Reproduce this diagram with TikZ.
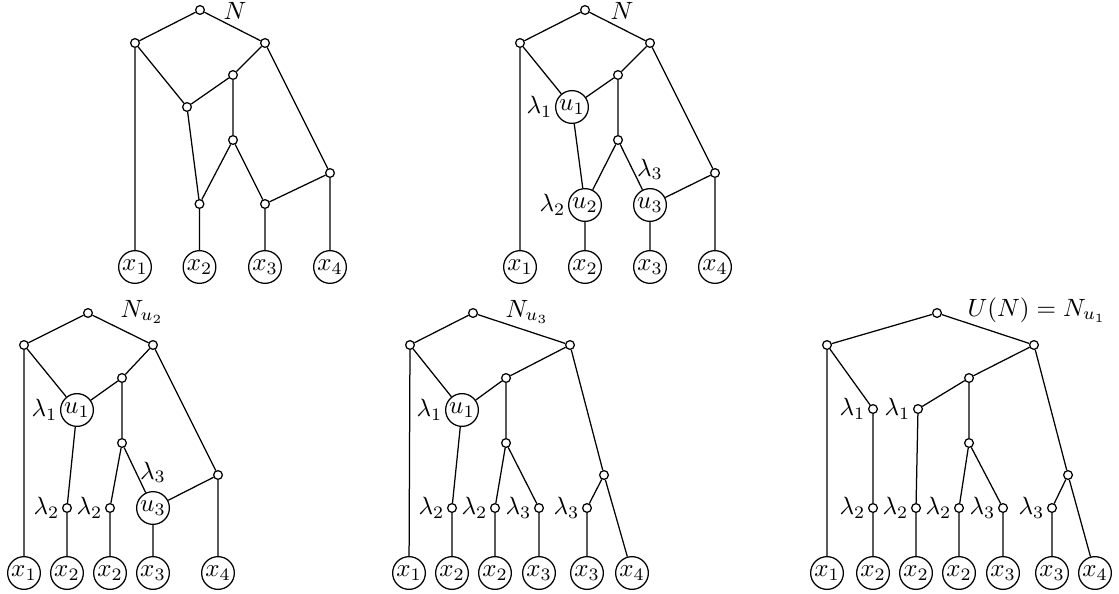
\documentclass[tikz,border=0pt]{standalone}
\begin{document}
\begin{tikzpicture}[x=0.4pt,y=-0.4pt,line width=0.5pt,
  v/.style={circle,draw,fill=white,inner sep=0pt,minimum size=3.5pt},
  lf/.style={circle,draw,inner sep=0.5pt},
  ttl/.style={anchor=base west,inner sep=0pt},
  every label/.style={inner sep=0.8pt},
  up/.style={label={[inner sep=3pt]above:$\lambda_{#1}$}},
  lt/.style={label={left:$\lambda_{#1}$}}]
\useasboundingbox (0,0) rectangle (1119,593);
% ---------------- top left: N
\node[v] (Ar) at (200,10) {};
\node[v] (Aa) at (135,43) {};
\node[v] (Ab) at (265,43) {};
\node[v] (Ac) at (233,75) {};
\node[v] (Ad) at (187,107) {};
\node[v] (Ae) at (233,140) {};
\node[v] (Af) at (330,173) {};
\node[v] (Ag) at (199.5,204) {};
\node[v] (Ah) at (265,204) {};
\node[lf] (A1) at (135,267) {$x_1$};
\node[lf] (A2) at (199.5,267) {$x_2$};
\node[lf] (A3) at (265,267) {$x_3$};
\node[lf] (A4) at (330,267) {$x_4$};
\node[ttl] (AN) at (223,19) {$N$};
\draw (Ar)--(Aa) (Ar)--(Ab) (Aa)--(A1) (Aa)--(Ad) (Ab)--(Ac) (Ab)--(Af)
  (Ac)--(Ad) (Ac)--(Ae) (Ad)--(Ag) (Ae)--(Ag) (Ae)--(Ah) (Af)--(Ah)
  (Af)--(A4) (Ag)--(A2) (Ah)--(A3);
% ---------------- top middle
\node[v] (Br) at (585,10) {};
\node[v] (Ba) at (520,43) {};
\node[v] (Bb) at (650,43) {};
\node[v] (Bc) at (618,75) {};
\node[lf,lt=1] (Bu1) at (572,107) {$u_1$};
\node[v] (Be) at (618,140) {};
\node[v] (Bf) at (715,173) {};
\node[lf,lt=2] (Bu2) at (585,205) {$u_2$};
\node[lf,up=3] (Bu3) at (650,205) {$u_3$};
\node[lf] (B1) at (520,267) {$x_1$};
\node[lf] (B2) at (585,267) {$x_2$};
\node[lf] (B3) at (650,267) {$x_3$};
\node[lf] (B4) at (715,267) {$x_4$};
\node[ttl] (BN) at (610,19) {$N$};
\draw (Br)--(Ba) (Br)--(Bb) (Ba)--(B1) (Ba)--(Bu1) (Bb)--(Bc) (Bb)--(Bf)
  (Bc)--(Bu1) (Bc)--(Be) (Bu1)--(Bu2) (Be)--(Bu2) (Be)--(Bu3) (Bf)--(Bu3)
  (Bf)--(B4) (Bu2)--(B2) (Bu3)--(B3);
% ---------------- bottom left: N_{u2}
\node[v] (Cr) at (88,313) {};
\node[v] (Ca) at (24,345) {};
\node[v] (Cb) at (153,345) {};
\node[v] (Cc) at (122,378) {};
\node[lf,lt=1] (Cu1) at (77,410) {$u_1$};
\node[v] (Ce) at (122,443) {};
\node[v] (Cf) at (218,475) {};
\node[v,lt=2] (Cp) at (67,508) {};
\node[v,lt=2] (Cq) at (110,508) {};
\node[lf,up=3] (Cu3) at (153,508) {$u_3$};
\node[lf] (C1) at (24,573) {$x_1$};
\node[lf] (C2) at (67,573) {$x_2$};
\node[lf] (C2b) at (110,573) {$x_2$};
\node[lf] (C3) at (153,573) {$x_3$};
\node[lf] (C4) at (218,573) {$x_4$};
\node[ttl] (CN) at (120,317) {$N_{u_2}$};
\draw (Cr)--(Ca) (Cr)--(Cb) (Ca)--(C1) (Ca)--(Cu1) (Cb)--(Cc) (Cb)--(Cf)
  (Cc)--(Cu1) (Cc)--(Ce) (Cu1)--(Cp) (Ce)--(Cq) (Ce)--(Cu3) (Cf)--(Cu3)
  (Cf)--(C4) (Cp)--(C2) (Cq)--(C2b) (Cu3)--(C3);
% ---------------- bottom middle: N_{u3}
\node[v] (Dr) at (473,313) {};
\node[v] (Da) at (410,345) {};
\node[v] (Db) at (570,345) {};
\node[v] (Dc) at (506,378) {};
\node[lf,lt=1] (Du1) at (462,410) {$u_1$};
\node[v] (De) at (506,443) {};
\node[v] (Df) at (604,475) {};
\node[v,lt=2] (Dp) at (452,508) {};
\node[v,lt=2] (Dq) at (495,508) {};
\node[v,lt=3] (Ds) at (539,508) {};
\node[v,lt=3] (Dt) at (587,508) {};
\node[lf] (D1) at (409,573) {$x_1$};
\node[lf] (D2) at (452,573) {$x_2$};
\node[lf] (D2b) at (495,573) {$x_2$};
\node[lf] (D3) at (539,573) {$x_3$};
\node[lf] (D3b) at (587,573) {$x_3$};
\node[lf] (D4) at (632,573) {$x_4$};
\node[ttl] (DN) at (505,317) {$N_{u_3}$};
\draw (Dr)--(Da) (Dr)--(Db) (Da)--(D1) (Da)--(Du1) (Db)--(Dc) (Db)--(Df)
  (Dc)--(Du1) (Dc)--(De) (Du1)--(Dp) (Dp)--(D2) (De)--(Dq) (De)--(Ds)
  (Dq)--(D2b) (Ds)--(D3) (Df)--(Dt) (Df)--(D4) (Dt)--(D3b);
% ---------------- bottom right: U(N)
\node[v] (Er) at (937,313) {};
\node[v] (Ea) at (827,345) {};
\node[v] (Eb) at (1034,345) {};
\node[v] (Ec) at (969,378) {};
\node[v,lt=1] (El1) at (873,409) {};
\node[v,lt=1] (El2) at (918,409) {};
\node[v] (Ee) at (969,443) {};
\node[v] (Ef) at (1068,475) {};
\node[v,lt=2] (Em1) at (873,508) {};
\node[v,lt=2] (Em2) at (916,508) {};
\node[v,lt=2] (Em3) at (959,508) {};
\node[v,lt=3] (Em4) at (1003,508) {};
\node[v,lt=3] (Em5) at (1052,508) {};
\node[lf] (E1) at (827,573) {$x_1$};
\node[lf] (E2) at (873,573) {$x_2$};
\node[lf] (E2b) at (916,573) {$x_2$};
\node[lf] (E2c) at (959,573) {$x_2$};
\node[lf] (E3) at (1003,573) {$x_3$};
\node[lf] (E3b) at (1052,573) {$x_3$};
\node[lf] (E4) at (1095,573) {$x_4$};
\node[ttl] (EN) at (967,316) {$U(N)=N_{u_1}$};
\draw (Er)--(Ea) (Er)--(Eb) (Ea)--(E1) (Ea)--(El1) (El1)--(Em1) (Em1)--(E2)
  (Eb)--(Ec) (Eb)--(Ef) (Ec)--(El2) (El2)--(Em2) (Em2)--(E2b) (Ec)--(Ee)
  (Ee)--(Em3) (Ee)--(Em4) (Em3)--(E2c) (Em4)--(E3) (Ef)--(Em5) (Ef)--(E4)
  (Em5)--(E3b);
\end{tikzpicture}
\end{document}
